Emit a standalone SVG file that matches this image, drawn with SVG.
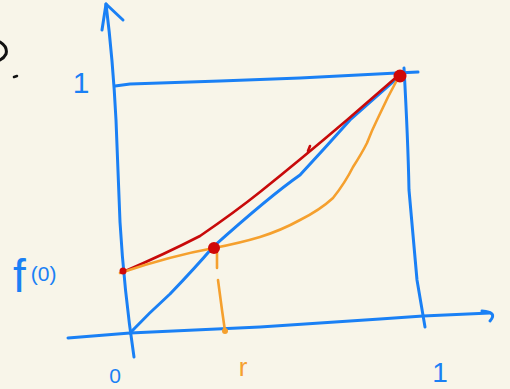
<svg xmlns="http://www.w3.org/2000/svg" width="510" height="389" viewBox="0 0 510 389">
<style>
.bl{fill:none;stroke:#1a80f5;stroke-width:3;stroke-linecap:round;stroke-linejoin:round}
.rd{fill:none;stroke:#c80a0a;stroke-width:2.6;stroke-linecap:round;stroke-linejoin:round}
.or{fill:none;stroke:#f5a02e;stroke-width:2.6;stroke-linecap:round;stroke-linejoin:round}
.lb{font-family:"Liberation Sans",Arial,sans-serif;fill:#1a80f5}
</style>
<rect width="510" height="389" fill="#f8f5e9"/>
<g id="mark">
<path d="M0,42 Q8,47 6,54 Q4,58 0,60" fill="none" stroke="#111" stroke-width="3" stroke-linecap="round"/>
<path d="M14,77 L17,76" fill="none" stroke="#111" stroke-width="2.5" stroke-linecap="round"/>
</g>
<g id="axes">
<path class="bl" d="M106,4 Q113,60 116,120 L120,222 Q124,290 134,357"/>
<path class="bl" d="M102,30 L106,4 L123,20"/>
<path class="bl" d="M68,338 L130,333 L260,327 L380,319 L423,316 L490,313"/>
<path class="bl" d="M482,311 Q498,312 490,321"/>
<path class="bl" d="M115,86 L130,84 L220,81 L300,78 L397,73 L418,72"/>
<path class="bl" d="M404,68 Q408,140 409,190 L417,280 L425,327"/>
</g>
<g id="connectors">
<path class="bl" d="M130,333 Q150,312 170,294 Q195,268 213,247 Q270,196 300,175 Q325,148 350,120 L402,74"/>
<path class="rd" d="M123,272 Q165,254 200,236 Q235,212 260,192 Q300,160 347,120 L400,74"/>
<path class="rd" d="M308,151 L310,146"/>
<path class="or" d="M120,273 Q170,256 214,248 Q240,243 260,237 Q282,230 300,220 Q320,210 333,198 Q345,183 353,167 Q362,153 367,143 Q372,130 377,120 L388,97 L397,80 L400,75"/>
<path class="or" d="M217,253 L217,268 M218,280 L222,310 L225,331"/>
<circle cx="225" cy="331" r="3" fill="#f5a02e"/>
</g>
<g id="points">
<circle cx="400" cy="76" r="6.5" fill="#d00808"/>
<circle cx="214" cy="248" r="6" fill="#d00808"/>
<circle cx="123" cy="271" r="3.5" fill="#d00808"/>
</g>
<g id="labels">
<text class="lb" x="13" y="292"><tspan font-size="46">f</tspan><tspan font-size="21" dx="5" dy="-11">(0)</tspan></text>
<text class="lb" x="115" y="383" font-size="21" text-anchor="middle">0</text>
<text x="243" y="376" font-size="26" text-anchor="middle" font-family="Liberation Sans, Arial, sans-serif" fill="#f5a02e">r</text>
<text class="lb" x="81" y="93" font-size="30" text-anchor="middle">1</text>
<text class="lb" x="440" y="382" font-size="28" text-anchor="middle">1</text>
</g>
</svg>
